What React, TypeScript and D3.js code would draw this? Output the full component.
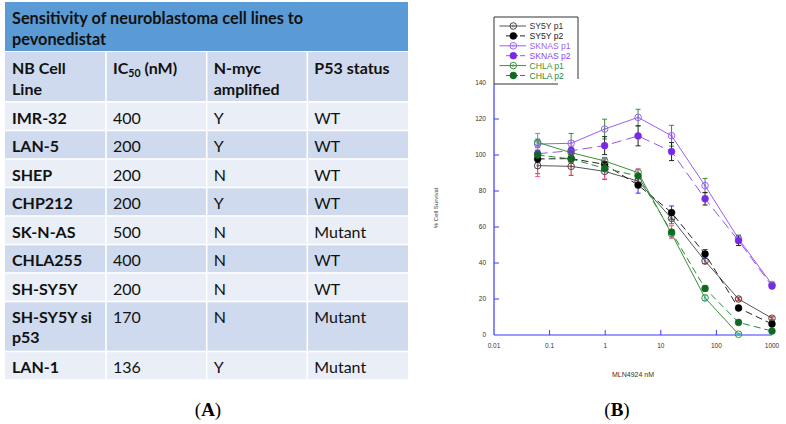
import React from 'react';
import * as d3 from 'd3';

// ---------- Table (A) data ----------
const tableTitle = ['Sensitivity of neuroblastoma cell lines to', 'pevonedistat'];
const cellLines = ['IMR-32', 'LAN-5', 'SHEP', 'CHP212', 'SK-N-AS', 'CHLA255', 'SH-SY5Y', 'SH-SY5Y si p53', 'LAN-1'];
const ic50Values = [400, 200, 200, 200, 500, 400, 200, 170, 136];
const nmycAmplified = ['Y', 'Y', 'N', 'Y', 'N', 'N', 'N', 'N', 'Y'];
const p53Status = ['WT', 'WT', 'WT', 'WT', 'Mutant', 'WT', 'WT', 'Mutant', 'Mutant'];

// ---------- Chart (B) data ----------
const concentrations = [0.061, 0.244, 0.977, 3.906, 15.625, 62.5, 250, 1000];
const seriesNames = ['SY5Y p1', 'SY5Y p2', 'SKNAS p1', 'SKNAS p2', 'CHLA p1', 'CHLA p2'];
const sy5yP1 = [94.1, 93.7, 90.9, 85.5, 64.8, 41.1, 20.0, 9.3];
const sy5yP2 = [97.8, 98.0, 94.8, 83.3, 68.0, 45.0, 15.0, 6.1];
const sknasP1 = [106.1, 106.5, 114.4, 120.9, 110.7, 83.0, 53.5, 28.1];
const sknasP2 = [100.7, 102.4, 105.2, 110.6, 101.9, 75.7, 52.4, 27.2];
const chlaP1 = [107.0, 101.3, 96.7, 90.2, 56.3, 20.6, 0.4];
const chlaP2 = [100.0, 97.8, 92.6, 88.3, 57.2, 25.9, 7.0, 2.2];
const sy5yP1Err = [4.5, 5, 4.5, 3, 3, 1.5, 1, 0.8];
const sy5yP2Err = [2, 2, 3, 4.5, 3.7, 2.5, 1, 0.8];
const sknasP1Err = [2, 5.5, 5.5, 4.5, 5.8, 4, 2, 1];
const sknasP2Err = [2, 2, 5, 5.5, 5, 3.5, 2.7, 1];
const chlaP1Err = [2, 2, 2, 2, 2, 1.5, 0.5];
const chlaP2Err = [12, 2, 6, 4, 3.5, 1.5, 1, 0.5];
const yTicks = [0, 20, 40, 60, 80, 100, 120, 140];
const xTicks = [0.01, 0.1, 1, 10, 100, 1000];
const xTickLabels = ['0.01', '0.1', '1', '10', '100', '1000'];

const seriesValues = [sy5yP1, sy5yP2, sknasP1, sknasP2, chlaP1, chlaP2];
const seriesErrors = [sy5yP1Err, sy5yP2Err, sknasP1Err, sknasP2Err, chlaP1Err, chlaP2Err];

const seriesStyle = [
  { line: '#555555', marker: '#444444', text: '#333333', err: '#e02424', filled: false, dash: null },
  { line: '#222222', marker: '#000000', text: '#222222', err: '#2a36ee', filled: true, dash: '7,4' },
  { line: '#9b5ff2', marker: '#9b5ff2', text: '#9b5ff2', err: '#3a8a3a', filled: false, dash: null },
  { line: '#9455f0', marker: '#7a28e8', text: '#8a45ee', err: '#222222', filled: true, dash: '10,5' },
  { line: '#3a913a', marker: '#3a913a', text: '#3a913a', err: '#36cfe0', filled: false, dash: null },
  { line: '#2a8a38', marker: '#0d6a20', text: '#2a8a38', err: '#ff4aa0', filled: true, dash: '7,4' },
];

const FONT_T = 'Lato, "Liberation Sans", sans-serif';
const FONT_C = '"Liberation Sans", Arial, sans-serif';

function Table() {
  const colX = [5, 106, 206.7, 307.3, 408];
  const titleTop = 2, titleBottom = 51;
  const headTop = 52, headBottom = 101;
  const rows: { top: number; h: number; lines: string[] }[] = [];
  let top = 102;
  cellLines.forEach((c) => {
    const lines = c.length > 10 ? [c.slice(0, c.lastIndexOf(' ')), c.slice(c.lastIndexOf(' ') + 1)] : [c];
    const h = lines.length > 1 ? 50 : 28.5;
    rows.push({ top, h, lines });
    top += h;
  });
  const dark = '#cfdaee';
  const light = '#e9eef7';
  const txt = '#111111';
  const hf = 16;
  const bf = 16;
  return (
    <g>
      <rect x={colX[0]} y={titleTop} width={colX[4] - colX[0]} height={titleBottom - titleTop} fill="#5b9bd5" />
      {tableTitle.map((t, i) => (
        <text key={i} x={12} y={23.5 + i * 21} fontFamily={FONT_T} fontWeight={700} fontSize={16.3} fill={txt}>{t}</text>
      ))}
      {[0, 1, 2, 3].map((c) => (
        <rect key={'h' + c} x={colX[c] + (c ? 0.8 : 0)} y={headTop} width={colX[c + 1] - colX[c] - (c ? 0.8 : 0) - (c < 3 ? 0.8 : 0)} height={headBottom - headTop} fill={dark} />
      ))}
      <text x={colX[0] + 7} y={74} fontFamily={FONT_T} fontWeight={700} fontSize={hf} fill={txt}>NB Cell</text>
      <text x={colX[0] + 7} y={95} fontFamily={FONT_T} fontWeight={700} fontSize={hf} fill={txt}>Line</text>
      <text x={colX[1] + 7} y={74} fontFamily={FONT_T} fontWeight={700} fontSize={hf} fill={txt}>
        IC<tspan fontSize={10.5} dy={3}>50</tspan><tspan dy={-3}> (nM)</tspan>
      </text>
      <text x={colX[2] + 7} y={74} fontFamily={FONT_T} fontWeight={700} fontSize={hf} fill={txt}>N-myc</text>
      <text x={colX[2] + 7} y={95} fontFamily={FONT_T} fontWeight={700} fontSize={hf} fill={txt}>amplified</text>
      <text x={colX[3] + 7} y={74} fontFamily={FONT_T} fontWeight={700} fontSize={hf} fill={txt}>P53 status</text>
      {rows.map((r, i) => (
        <g key={i}>
          {[0, 1, 2, 3].map((c) => (
            <rect key={c} x={colX[c] + (c ? 0.8 : 0)} y={r.top + 0.8} width={colX[c + 1] - colX[c] - (c ? 0.8 : 0) - (c < 3 ? 0.8 : 0)} height={r.h - 1.6} fill={i % 2 === 0 ? light : dark} />
          ))}
          {r.lines.map((l, j) => (
            <text key={j} x={colX[0] + 7} y={r.top + 21.5 + j * 20} fontFamily={FONT_T} fontWeight={700} fontSize={bf} fill={txt}>{l}</text>
          ))}
          <text x={colX[1] + 7} y={r.top + 21.5} fontFamily={FONT_T} fontSize={bf} fill={txt}>{ic50Values[i]}</text>
          <text x={colX[2] + 7} y={r.top + 21.5} fontFamily={FONT_T} fontSize={bf} fill={txt}>{nmycAmplified[i]}</text>
          <text x={colX[3] + 7} y={r.top + 21.5} fontFamily={FONT_T} fontSize={bf} fill={txt}>{p53Status[i]}</text>
        </g>
      ))}
      <text x={208} y={416} textAnchor="middle" fontFamily='"Liberation Serif", "Times New Roman", serif' fontSize={19} fill="#000">
        (<tspan fontWeight={700}>A</tspan>)
      </text>
    </g>
  );
}

function Chart() {
  const x = d3.scaleLog().domain([0.01, 1000]).range([494, 772]);
  const y = d3.scaleLinear().domain([0, 140]).range([335, 83]);
  const axisBlue = '#3a3af5';
  const line = d3.line<[number, number]>().x((d) => x(d[0])).y((d) => y(d[1]));
  const legendY = (i: number) => 26 + i * 9.9;

  const marker = (cx: number, cy: number, s: typeof seriesStyle[number], key: string | number) =>
    s.filled ? (
      <circle key={key} cx={cx} cy={cy} r={3.4} fill={s.marker} stroke={s.marker} strokeWidth={0.6} />
    ) : (
      <g key={key}>
        <circle cx={cx} cy={cy} r={3.3} fill="none" stroke={s.marker} strokeWidth={1} />
        <circle cx={cx} cy={cy} r={1.1} fill="none" stroke={s.marker} strokeWidth={0.5} />
      </g>
    );

  return (
    <g>
      {/* axes */}
      <line x1={x(0.01)} x2={x(1000)} y1={y(0)} y2={y(0)} stroke={axisBlue} strokeWidth={1.2} />
      <line x1={x(0.01)} x2={x(0.01)} y1={y(0)} y2={y(140) + 1} stroke={axisBlue} strokeWidth={1.2} />
      {yTicks.slice(1, -1).map((t) => (
        <line key={t} x1={x(0.01)} x2={x(0.01) + 5} y1={y(t)} y2={y(t)} stroke={axisBlue} strokeWidth={1} />
      ))}
      {xTicks.slice(1, -1).map((t) => (
        <line key={t} x1={x(t)} x2={x(t)} y1={y(0)} y2={y(0) - 5} stroke={axisBlue} strokeWidth={1} />
      ))}
      {yTicks.map((t) => (
        <text key={t} x={486} y={y(t) + 2.3} textAnchor="end" fontFamily={FONT_C} fontSize={6.5} fill="#333">{t}</text>
      ))}
      {xTicks.map((t, i) => (
        <text key={t} x={x(t)} y={347.5} textAnchor="middle" fontFamily={FONT_C} fontSize={6.5} fill="#333">{xTickLabels[i]}</text>
      ))}
      <text transform="translate(438,208) rotate(-90)" textAnchor="middle" fontFamily={FONT_C} fontSize={6} fill="#333">% Cell Survival</text>
      <text x={633} y={376.5} textAnchor="middle" fontFamily={FONT_C} fontSize={7} fill="#333">MLN4924 nM</text>

      {/* series lines */}
      {seriesValues.map((vals, si) => {
        const s = seriesStyle[si];
        const pts = vals.map((v, i) => [concentrations[i], v] as [number, number]);
        return (
          <path key={si} d={line(pts) || ''} fill="none" stroke={s.line} strokeWidth={1} strokeDasharray={s.dash || undefined} />
        );
      })}
      {/* error bars */}
      {seriesValues.map((vals, si) => {
        const s = seriesStyle[si];
        return (
          <g key={si} stroke={s.err} strokeWidth={1}>
            {vals.map((v, i) => {
              const e = seriesErrors[si][i];
              const cx = x(concentrations[i]);
              return (
                <g key={i}>
                  <line x1={cx} x2={cx} y1={y(v - e)} y2={y(v + e)} />
                  <line x1={cx - 2.5} x2={cx + 2.5} y1={y(v - e)} y2={y(v - e)} />
                  <line x1={cx - 2.5} x2={cx + 2.5} y1={y(v + e)} y2={y(v + e)} />
                </g>
              );
            })}
          </g>
        );
      })}
      {/* markers */}
      {seriesValues.map((vals, si) => (
        <g key={si}>{vals.map((v, i) => marker(x(concentrations[i]), y(v), seriesStyle[si], i))}</g>
      ))}

      {/* legend */}
      <rect x={494} y={17} width={84} height={66} fill="#fff" />
      <path d="M494,84 V17 H578 V79" fill="none" stroke="#333" strokeWidth={1} />
      <line x1={494} x2={558} y1={84} y2={84} stroke="#333" strokeWidth={1} />
      {seriesNames.map((n, i) => {
        const s = seriesStyle[i];
        const ly = legendY(i);
        return (
          <g key={n}>
            <line x1={s.filled ? 506 : 499.5} x2={526} y1={ly} y2={ly} stroke={s.line} strokeWidth={1} strokeDasharray={s.dash ? '5,2' : undefined} />
            {marker(513.3, ly, s, 'm')}
            <text x={529.5} y={ly + 3} fontFamily={FONT_C} fontSize={8.6} fill={s.text}>{n}</text>
          </g>
        );
      })}
      <text x={617} y={416} textAnchor="middle" fontFamily='"Liberation Serif", "Times New Roman", serif' fontSize={19} fill="#000">
        (<tspan fontWeight={700}>B</tspan>)
      </text>
    </g>
  );
}

export default function App() {
  return (
    <svg width={786} height={424} viewBox="0 0 786 424" style={{ position: 'absolute', left: 0, top: 0, background: '#fff' }}>
      <rect x={0} y={0} width={786} height={424} fill="#fff" />
      <Table />
      <Chart />
    </svg>
  );
}
